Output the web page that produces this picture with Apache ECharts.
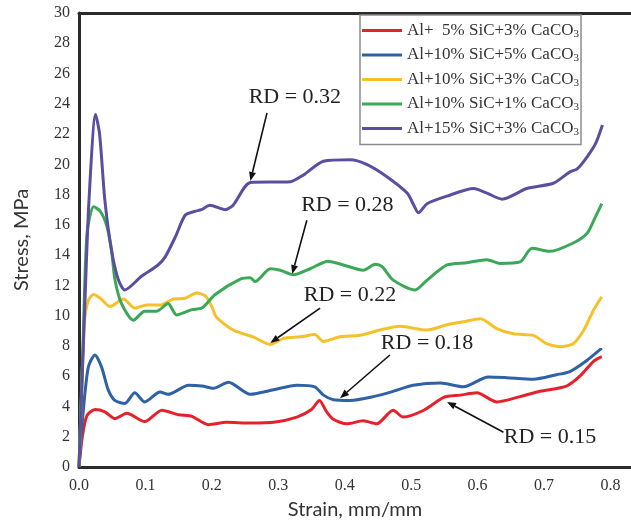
<!DOCTYPE html>
<html lang="en">
<head>
    <meta charset="UTF-8">
    <title>Stress-strain curves</title>
    <style>
        html, body { margin: 0; padding: 0; background: #fff; }
    </style>
</head>
<body>
    <div id="main" style="width: 631px;height:528px;"></div>
    <script src="https://cdn.jsdelivr.net/npm/echarts@6/dist/echarts.min.js"></script>
    <script type="text/javascript">
        var myChart = echarts.init(document.getElementById('main'));

        // series names (last char "3" becomes a subscript in the legend)
        var names = [
            'Al+  5% SiC+3% CaCO3',
            'Al+10% SiC+5% CaCO3',
            'Al+10% SiC+3% CaCO3',
            'Al+10% SiC+1% CaCO3',
            'Al+15% SiC+3% CaCO3'
        ];
        var colors = ['#e5222b', '#2e62a4', '#f5c12a', '#3ba857', '#5a4f9f'];

        // [strain, stress]
        var red = [[0,0],[0.005,2],[0.012,3.4],[0.024,3.8],[0.039,3.65],[0.054,3.2],[0.072,3.55],[0.099,3.0],
            [0.125,3.75],[0.15,3.45],[0.17,3.35],[0.195,2.8],[0.222,2.95],[0.258,2.9],[0.293,2.95],[0.328,3.3],
            [0.35,3.8],[0.362,4.4],[0.372,3.7],[0.383,3.15],[0.403,2.85],[0.428,3.05],[0.448,2.85],[0.473,3.75],
            [0.488,3.3],[0.519,3.75],[0.549,4.6],[0.574,4.75],[0.599,4.9],[0.629,4.3],[0.664,4.65],[0.694,5.0],
            [0.734,5.35],[0.754,6.0],[0.775,7.0],[0.787,7.3]];
        var blue = [[0,0],[0.006,3.5],[0.014,6.6],[0.024,7.4],[0.034,6.6],[0.044,5.1],[0.054,4.4],[0.069,4.2],
            [0.084,4.9],[0.099,4.3],[0.122,4.95],[0.134,4.8],[0.165,5.4],[0.185,5.35],[0.202,5.2],[0.225,5.6],
            [0.258,4.8],[0.293,5.1],[0.328,5.4],[0.355,5.3],[0.368,4.75],[0.383,4.45],[0.408,4.4],[0.443,4.65],
            [0.473,5.0],[0.503,5.4],[0.544,5.55],[0.579,5.3],[0.616,5.95],[0.644,5.9],[0.684,5.8],[0.719,6.1],
            [0.739,6.3],[0.765,7.05],[0.787,7.85]];
        var yellow = [[0,0],[0.004,5],[0.008,9.5],[0.014,11.0],[0.022,11.4],[0.032,11.15],[0.047,10.6],[0.067,11.1],
            [0.084,10.5],[0.102,10.7],[0.122,10.7],[0.142,11.1],[0.16,11.15],[0.177,11.5],[0.19,11.3],[0.2,10.6],
            [0.207,9.9],[0.232,9.05],[0.262,8.6],[0.288,8.1],[0.308,8.5],[0.333,8.6],[0.355,8.75],[0.368,8.3],
            [0.393,8.6],[0.423,8.7],[0.453,9.05],[0.483,9.3],[0.524,9.05],[0.554,9.4],[0.579,9.6],[0.604,9.8],
            [0.629,9.15],[0.654,8.8],[0.684,8.7],[0.704,8.15],[0.724,7.95],[0.744,8.15],[0.76,9.05],[0.775,10.4],
            [0.787,11.25]];
        var green = [[0,0],[0.006,8],[0.012,15.4],[0.022,17.2],[0.032,16.9],[0.042,15.9],[0.049,14.3],[0.054,12.4],
            [0.064,10.8],[0.082,9.7],[0.099,10.3],[0.117,10.3],[0.134,10.8],[0.147,10.05],[0.17,10.4],[0.185,10.5],
            [0.205,11.4],[0.242,12.4],[0.258,12.5],[0.265,12.25],[0.288,13.1],[0.303,13.0],[0.323,12.7],[0.348,13.1],
            [0.375,13.6],[0.398,13.35],[0.428,13.0],[0.446,13.4],[0.456,13.25],[0.473,12.35],[0.506,11.7],[0.524,12.35],
            [0.554,13.35],[0.584,13.5],[0.614,13.7],[0.634,13.45],[0.664,13.55],[0.682,14.45],[0.709,14.25],[0.744,14.8],
            [0.765,15.45],[0.775,16.3],[0.787,17.4]];
        var purple = [[0,0],[0.009,11],[0.015,17.6],[0.025,23.3],[0.031,22.0],[0.039,17.6],[0.049,14.3],[0.059,12.4],
            [0.069,11.7],[0.094,12.6],[0.119,13.35],[0.13,13.9],[0.145,15.2],[0.16,16.65],[0.175,16.9],[0.184,17.0],
            [0.197,17.3],[0.22,17.0],[0.232,17.3],[0.258,18.8],[0.318,18.85],[0.338,19.3],[0.368,20.2],[0.408,20.3],
            [0.433,20.0],[0.463,19.2],[0.494,18.1],[0.504,17.3],[0.511,16.8],[0.524,17.4],[0.554,17.9],[0.594,18.4],
            [0.614,18.1],[0.637,17.7],[0.674,18.4],[0.714,18.75],[0.739,19.5],[0.75,19.7],[0.765,20.5],[0.778,21.4],
            [0.788,22.6]];
        var curves = [red, blue, yellow, green, purple];

        // label, text x, text y, arrow from x, y, arrow to x, y (data units)
        var notes = [
            ['RD = 0.32', 0.325, 24.45, 0.283, 23.4, 0.258, 18.9],
            ['RD = 0.28', 0.404, 17.3, 0.343, 16.3, 0.321, 12.75],
            ['RD = 0.22', 0.408, 11.35, 0.363, 10.5, 0.288, 8.2],
            ['RD = 0.18', 0.524, 8.2, 0.468, 7.4, 0.393, 4.55],
            ['RD = 0.15', 0.709, 2.0, 0.639, 2.3, 0.554, 4.3]
        ];

        var serif = '"Liberation Serif", "Times New Roman", serif';
        var axisLine = { lineStyle: { color: '#2b2b2b', width: 3 } };

        var option = {
            animation: false,
            grid: { left: 79, top: 13, right: 0, bottom: 61 },
            legend: {
                orient: 'vertical',
                left: 360, top: 15,
                icon: 'rect',
                itemWidth: 40, itemHeight: 3, itemGap: 7,
                padding: [7, 2, 7, 2],
                borderColor: '#8c8c8c', borderWidth: 1.5,
                backgroundColor: '#fff',
                data: names,
                textStyle: {
                    fontFamily: serif, fontSize: 17, color: '#333',
                    rich: { sub: { fontFamily: serif, fontSize: 11, color: '#333', padding: [7, 0, 0, 0] } }
                },
                formatter: function (name) {
                    return name.slice(0, -1) + '{sub|3}';
                }
            },
            xAxis: [{
                type: 'value',
                min: 0, max: 0.831, interval: 0.1,
                name: 'Strain, mm/mm',
                nameLocation: 'middle', nameGap: 33,
                nameTextStyle: { fontFamily: 'Lato', fontSize: 20, color: '#333' },
                axisLine: axisLine,
                axisTick: { show: false },
                splitLine: { show: false },
                axisLabel: {
                    showMaxLabel: false, margin: 11,
                    fontFamily: serif, fontSize: 16, color: '#333',
                    formatter: function (v) { return v.toFixed(1); }
                }
            }, {
                type: 'value', position: 'top',
                min: 0, max: 0.831,
                axisLine: axisLine,
                axisTick: { show: false }, axisLabel: { show: false }, splitLine: { show: false }
            }],
            yAxis: {
                type: 'value',
                min: 0, max: 30, interval: 2,
                name: 'Stress, MPa',
                nameLocation: 'middle', nameGap: 47,
                nameTextStyle: { fontFamily: 'Lato', fontSize: 20, color: '#333' },
                axisLine: { show: true, lineStyle: { color: '#2b2b2b', width: 3 } },
                axisTick: { show: false },
                splitLine: { show: false },
                axisLabel: { margin: 9, fontFamily: serif, fontSize: 16, color: '#333' }
            },
            series: curves.map(function (d, i) {
                return {
                    name: names[i],
                    type: 'line',
                    data: d,
                    smooth: 0.25,
                    showSymbol: false,
                    symbol: 'none',
                    color: colors[i],
                    lineStyle: { width: 3, color: colors[i] },
                    itemStyle: { color: colors[i] }
                };
            })
        };

        myChart.setOption(option);

        // arrows + RD labels, placed through the axes
        var g = [];
        notes.forEach(function (n) {
            var t = myChart.convertToPixel({ gridIndex: 0 }, [n[1], n[2]]);
            var a = myChart.convertToPixel({ gridIndex: 0 }, [n[3], n[4]]);
            var b = myChart.convertToPixel({ gridIndex: 0 }, [n[5], n[6]]);
            var ang = Math.atan2(b[1] - a[1], b[0] - a[0]);
            var L = 9, W = 3.5;
            var bx = b[0] - L * Math.cos(ang), by = b[1] - L * Math.sin(ang);
            g.push({ type: 'line', z: 100, shape: { x1: a[0], y1: a[1], x2: bx, y2: by },
                style: { stroke: '#111', lineWidth: 1.6 } });
            g.push({ type: 'polygon', z: 100, shape: { points: [[b[0], b[1]],
                [bx - W * Math.sin(ang), by + W * Math.cos(ang)],
                [bx + W * Math.sin(ang), by - W * Math.cos(ang)]] },
                style: { fill: '#111' } });
            g.push({ type: 'text', z: 100, x: t[0], y: t[1],
                style: { text: n[0], font: '22px ' + serif, fill: '#222', align: 'center', verticalAlign: 'middle' } });
        });
        myChart.setOption({ graphic: g });
    </script>
</body>
</html>
